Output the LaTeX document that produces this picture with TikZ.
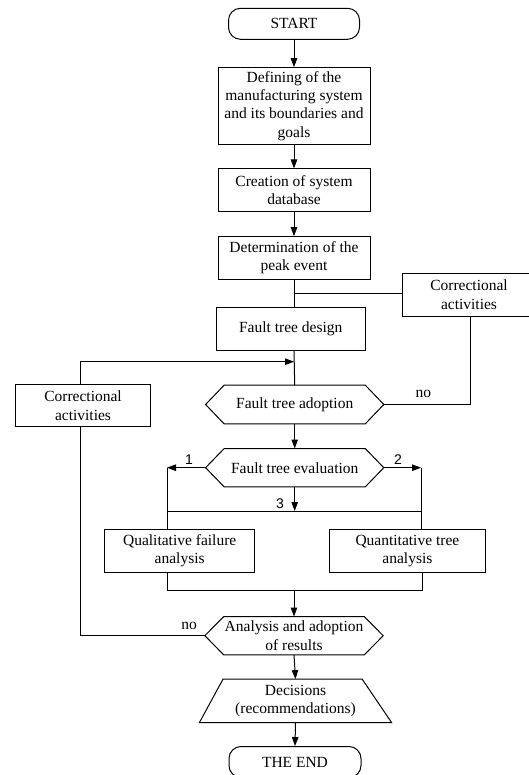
\documentclass[tikz,border=0pt]{standalone}
\usepackage{fontspec}
\setmainfont{Liberation Serif}
\newfontfamily\numfont{Liberation Sans}
\usetikzlibrary{arrows.meta}
\tikzset{
  base/.style={inner sep=0pt, align=center, font=\fontsize{15.5}{18.3}\selectfont},
  stepbox/.style={base, draw, line width=1pt, rectangle},
  termbox/.style={base, draw, line width=1pt, rectangle, rounded corners=12pt},
  hexnode/.style={base},
  conn/.style={line width=1pt},
  arr/.style={conn, -{Triangle[length=9pt,width=6.5pt]}},
  numlbl/.style={inner sep=0pt, font=\numfont\fontsize{14}{14}\selectfont},
  nolbl/.style={inner sep=0pt, font=\fontsize{15.5}{15.5}\selectfont}
}
\newcommand{\drawhexshape}[2]{%
  \draw[conn] (#1.west) -- ([xshift=#2]#1.north west) -- ([xshift=-#2]#1.north east)
   -- (#1.east) -- ([xshift=-#2]#1.south east) -- ([xshift=#2]#1.south west) -- cycle;}
\begin{document}
\begin{tikzpicture}[x=1pt,y=-1pt]
\useasboundingbox (0,0) rectangle (529,775);
% main column
\node[termbox, minimum width=131pt, minimum height=31pt] (start) at (294,23.8) {START};
\node[stepbox, minimum width=152pt, minimum height=76.6pt] (def) at (294,106) {Defining of the\\manufacturing system\\and its boundaries and\\goals};
\node[stepbox, minimum width=152pt, minimum height=42.7pt] (db) at (294,190.3) {Creation of system\\database};
\node[stepbox, minimum width=152pt, minimum height=42.7pt] (peak) at (294,258) {Determination of the\\peak event};
\node[stepbox, minimum width=149.4pt, minimum height=42.6pt] (design) at (290.7,329) {Fault tree design};
\node[stepbox, minimum width=142pt, minimum height=43pt, text width=134pt] (rcorr) at (473,294.8) {\hspace*{-8pt}Correctional\\\hspace*{-8pt}activities};
\node[stepbox, minimum width=135pt, minimum height=42.3pt] (lcorr) at (83,405.8) {Correctional\\activities};
\node[hexnode, minimum width=177.8pt, minimum height=38.4pt] (adopt) at (294.7,404.5) {Fault tree adoption};
\drawhexshape{adopt}{18.6pt}
\node[hexnode, minimum width=177.8pt, minimum height=38pt] (eval) at (294.7,467.7) {Fault tree evaluation};
\drawhexshape{eval}{18.6pt}
\node[stepbox, minimum width=150.1pt, minimum height=43pt] (qual) at (179.7,550.8) {Qualitative failure\\analysis};
\node[stepbox, minimum width=155.6pt, minimum height=43pt] (quant) at (407.4,550.8) {Quantitative tree\\analysis};
\node[hexnode, minimum width=178pt, minimum height=38pt] (anal) at (294,635.7) {Analysis and adoption\\of results};
\drawhexshape{anal}{19pt}
\node[base, minimum width=191.7pt, minimum height=43pt] (dec) at (295.5,700.8) {Decisions\\(recommendations)};
\draw[conn] (dec.south west) -- ([xshift=23.6pt]dec.north west) -- ([xshift=-29.4pt]dec.north east) -- (dec.south east) -- cycle;
\node[termbox, minimum width=132pt, minimum height=31pt] (theend) at (295,762) {THE END};
% coordinates
\coordinate (jr) at (294,293.3);
\coordinate (jl) at (294,361.7);
\coordinate (lup) at (80,361.7);
\coordinate (rcorner) at (470,404.5);
\coordinate (e1) at (167,467.7);
\coordinate (e2) at (421,467.7);
\coordinate (e3) at (294.7,511);
\coordinate (m1) at (167,590.3);
\coordinate (m2) at (422,590.3);
\coordinate (mm) at (294,590.3);
\coordinate (lno) at (80,635.7);
% connectors
\draw[arr] (start.south) -- (start.south |- def.north);
\draw[arr] (def.south -| start.south) -- (db.north -| start.south);
\draw[arr] (db.south -| start.south) -- (peak.north -| start.south);
\draw[conn] (peak.south -| start.south) -- (design.north -| start.south);
\draw[conn] (rcorr.west |- jr) -- (jr);
\draw[conn] (design.south -| start.south) -- (adopt.north);
\draw[arr] (lcorr.north -| lup) -- (lup) -- (jl);
\draw[conn] (adopt.east) -- (rcorner) -- (rcorr.south -| rcorner);
\node[nolbl] (no1) at (423.4,394) {no};
\draw[arr] (adopt.south) -- (eval.north);
\draw[arr] (eval.west) -- (e1);
\draw[arr] (eval.east) -- (e2);
\draw[arr] (eval.south) -- (e3);
\node[numlbl] (n1) at (189,459.3) {1};
\node[numlbl] (n2) at (398,459.3) {2};
\node[numlbl] (n3) at (280,503.3) {3};
\draw[conn] (e1) -- (qual.north -| e1);
\draw[conn] (e2) -- (quant.north -| e2);
\draw[conn] (e1 |- e3) -- (e2 |- e3);
\draw[conn] (qual.south -| m1) -- (m1) -- (m2) -- (quant.south -| m2);
\draw[arr] (mm) -- (anal.north);
\draw[conn] (anal.west) -- (lno) -- (lcorr.south -| lno);
\node[nolbl] (no2) at (189,626) {no};
\draw[arr] (anal.south) -- (dec.north);
\draw[arr] (dec.south) -- (theend.north);
\end{tikzpicture}
\end{document}
